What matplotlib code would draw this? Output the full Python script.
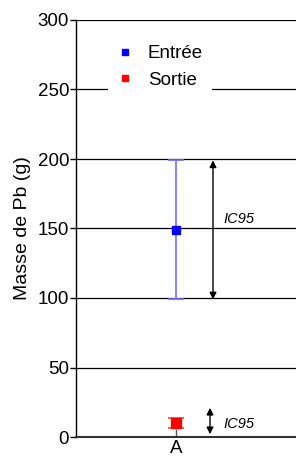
import matplotlib
matplotlib.use("Agg")
import matplotlib.pyplot as plt

plt.rcParams['font.family'] = ['Liberation Sans', 'DejaVu Sans']

categories = ["A"]
series_names = ["Entrée", "Sortie"]
means = [149, 10]
lower = [99, 6.5]
upper = [199, 13.5]
colors = ["#0000ff", "#ff0000"]
ecolors = ["#6f6fff", "#ff4444"]
yticks = [0, 50, 100, 150, 200, 250, 300]
ic_label = "IC95"
ic_big = (99, 199, 157)
ic_small = (2, 21, 9.5)

fig = plt.figure(figsize=(2.96, 4.57), dpi=100)
ax = fig.add_axes([76/296, 20/457, 220/296, 417/457])
ax.set_xlim(0, 2.2)
ax.set_ylim(0, 300)
ax.set_yticks(yticks)
ax.set_xticks([1])
ax.set_xticklabels(categories)
ax.yaxis.grid(True, color='black', lw=0.9)
ax.set_axisbelow(True)
for s in ['top', 'right']:
    ax.spines[s].set_visible(False)
ax.spines['left'].set_linewidth(1.0)
ax.spines['bottom'].set_linewidth(1.5)
ax.spines['bottom'].set_color('#333333')
ax.tick_params(axis='y', labelsize=13.5, length=4, width=1, pad=1)
ax.tick_params(axis='x', labelsize=13.5, direction='in', length=6, width=1, color='#555555', pad=2)

msizes = [6, 7]
for i in range(2):
    ax.errorbar([1], [means[i]],
                yerr=[[means[i] - lower[i]], [upper[i] - means[i]]],
                fmt='s', color=colors[i], ecolor=ecolors[i], ms=msizes[i],
                capsize=6, elinewidth=1.2, capthick=1.2, label=series_names[i],
                zorder=3)

# IC95 arrows
ax.annotate('', xy=(1.37, ic_big[1]), xytext=(1.37, ic_big[0]),
            arrowprops=dict(arrowstyle='<|-|>', color='black', lw=1.0,
                            mutation_scale=10, shrinkA=0, shrinkB=0))
ax.text(1.47, ic_big[2], ic_label, fontsize=10.5, style='italic', va='center', ha='left')
ax.annotate('', xy=(1.34, ic_small[1]), xytext=(1.34, ic_small[0]),
            arrowprops=dict(arrowstyle='<|-|>', color='black', lw=1.0,
                            mutation_scale=10, shrinkA=0, shrinkB=0))
ax.text(1.47, ic_small[2], ic_label, fontsize=10.5, style='italic', va='center', ha='left')

h, l = ax.get_legend_handles_labels()
h = [hh[0] for hh in h]
leg = ax.legend(h, l, loc='upper left', bbox_to_anchor=(0.105, 0.985), frameon=True,
                fontsize=13.5, handlelength=0.8, handletextpad=0.8, borderpad=0.5,
                labelspacing=0.5, fancybox=False)
for lh in leg.legend_handles:
    lh.set_markersize(5)
leg.get_frame().set_edgecolor('none')
leg.get_frame().set_facecolor('white')
leg.get_frame().set_alpha(1)

ax.set_ylabel("Masse de Pb (g)", fontsize=14, labelpad=5)

fig.savefig("out.png", dpi=100)
